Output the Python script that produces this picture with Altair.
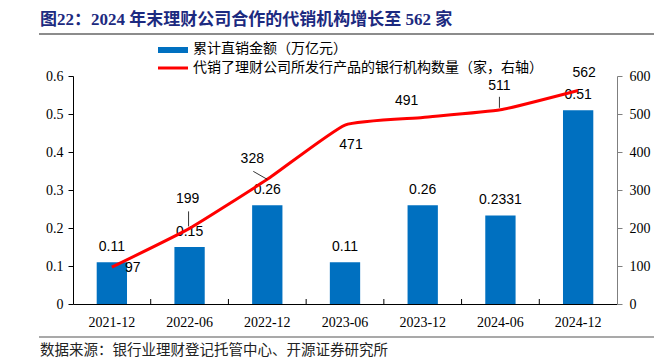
import altair as alt
import pandas as pd

# ---- data ----
categories = ["2021-12", "2022-06", "2022-12", "2023-06", "2023-12", "2024-06", "2024-12"]
direct_sales = [0.11, 0.15, 0.26, 0.11, 0.26, 0.2331, 0.51]
direct_labels = ["0.11", "0.15", "0.26", "0.11", "0.26", "0.2331", "0.51"]
bank_count = [97, 199, 328, 471, 491, 511, 562]

title_text = "图22：2024 年末理财公司合作的代销机构增长至 562 家"
bar_legend = "累计直销金额（万亿元）"
line_legend = "代销了理财公司所发行产品的银行机构数量（家，右轴）"
source_text = "数据来源：银行业理财登记托管中心、开源证券研究所"
left_ticks = [0, 0.1, 0.2, 0.3, 0.4, 0.5, 0.6]
right_ticks = [0, 100, 200, 300, 400, 500, 600]

# ---- layout / style ----
W, H = 544, 228
BAND = W / len(categories)
BLUE = "#0070C0"
RED = "#FF0000"
NAVY = "#1C2A80"
SERIF = "Liberation Serif"
CJK = "'Liberation Serif', 'Noto Sans CJK SC'"
CJK_PLAIN = "Noto Sans CJK SC"
NUM = "Liberation Sans"

df = pd.DataFrame({"cat": categories, "amt": direct_sales,
                   "amt_label": direct_labels, "cnt": bank_count})
base = alt.Chart(df)

x_enc = alt.X("cat:N", sort=categories,
              scale=alt.Scale(paddingInner=0, paddingOuter=0),
              axis=alt.Axis(title=None, labelAngle=0, labelFont=SERIF, labelFontSize=14,
                            labelColor="black", labelPadding=11, ticks=False,
                            domainColor="black", domainWidth=1))

y_left = alt.Y("amt:Q", scale=alt.Scale(domain=[0, 0.6]),
               axis=alt.Axis(title=None, orient="left", values=left_ticks, format=".1~f",
                             labelFont=SERIF, labelFontSize=14, labelColor="black",
                             tickSize=5, tickColor="black", domainColor="black",
                             grid=False, labelPadding=5))

y_right = alt.Y("cnt:Q", scale=alt.Scale(domain=[0, 600]),
                axis=alt.Axis(title=None, orient="right", values=right_ticks,
                              labelFont=SERIF, labelFontSize=14, labelColor="black",
                              tickSize=5, tickColor="#7f7f7f", domainColor="#7f7f7f",
                              grid=False, labelPadding=7))

bars = base.mark_bar(color=BLUE, width={"band": 0.39}).encode(x=x_enc, y=y_left)
bar_text = base.mark_text(font=NUM, fontSize=14, color="black", baseline="middle",
                          dy=-15).encode(x="cat:N", y=y_left, text="amt_label:N")
left_layer = alt.layer(bars, bar_text)

line = base.mark_line(color=RED, strokeWidth=3, interpolate="cardinal",
                      tension=0.55).encode(x="cat:N", y=y_right)

label_offsets = {
    "2021-12": (21, 1), "2022-06": (-2, -29), "2022-12": (-15, -20),
    "2023-06": (6, 20), "2023-12": (-16, -16), "2024-06": (-1, -24),
    "2024-12": (6, -17),
}
line_labels = []
for c, (dx, dy) in label_offsets.items():
    line_labels.append(
        base.transform_filter(alt.datum.cat == c).mark_text(
            font=NUM, fontSize=14, color="black", baseline="middle", dx=dx, dy=dy
        ).encode(x="cat:N", y=y_right, text="cnt:Q"))

leader_a = base.transform_filter(alt.datum.cat == "2022-06").mark_rule(
    color="black", strokeWidth=0.8, xOffset=-1, yOffset=-2, y2Offset=-17
).encode(x="cat:N", y=y_right, y2="cnt:Q")
leader_b = base.transform_filter(alt.datum.cat == "2024-06").mark_rule(
    color="black", strokeWidth=0.8, xOffset=-1, yOffset=-2, y2Offset=-13
).encode(x="cat:N", y=y_right, y2="cnt:Q")
leader_c = base.transform_filter(alt.datum.cat == "2022-12").mark_rule(
    color="black", strokeWidth=0.8, xOffset=0, x2Offset=-14, yOffset=0, y2Offset=-8
).encode(x="cat:N", x2="cat:N", y=y_right, y2="cnt:Q")

right_layer = alt.layer(line, *line_labels, leader_a, leader_b, leader_c)

# inward x-axis ticks between categories
xticks = base.transform_filter(alt.datum.cat != categories[0]).mark_rule(
    color="black", strokeWidth=1, xOffset=-BAND / 2
).encode(x="cat:N", y=alt.value(H), y2=alt.value(H - 5))

one = alt.Chart(pd.DataFrame({"k": [0]}))
title = one.mark_text(text=title_text, font=CJK, fontSize=17, fontWeight="bold",
                      color=NAVY, align="left", baseline="middle").encode(
    x=alt.value(-33), y=alt.value(-56))
hr_top = one.mark_rule(color="#8c8c8c", strokeWidth=2).encode(
    x=alt.value(-34), x2=alt.value(581), y=alt.value(-42))
hr_bot = one.mark_rule(color="#8c8c8c", strokeWidth=1.5).encode(
    x=alt.value(-34), x2=alt.value(581), y=alt.value(261))
source = one.mark_text(text=source_text, font=CJK_PLAIN, fontSize=14.5, color="#222222",
                       align="left", baseline="middle").encode(
    x=alt.value(-33), y=alt.value(275))
leg_rect = one.mark_rect(color=BLUE).encode(
    x=alt.value(85), x2=alt.value(115), y=alt.value(-29), y2=alt.value(-23))
leg_rule = one.mark_rule(color=RED, strokeWidth=3).encode(
    x=alt.value(85), x2=alt.value(115), y=alt.value(-8))
leg_t1 = one.mark_text(text=bar_legend, font=CJK_PLAIN, fontSize=14, color="black",
                       align="left", baseline="middle").encode(
    x=alt.value(120), y=alt.value(-27))
leg_t2 = one.mark_text(text=line_legend, font=CJK_PLAIN, fontSize=14, color="black",
                       align="left", baseline="middle").encode(
    x=alt.value(120), y=alt.value(-8))

chart = alt.layer(
    left_layer, right_layer, xticks,
    title, hr_top, hr_bot, source, leg_rect, leg_rule, leg_t1, leg_t2
).resolve_scale(y="independent").properties(
    width=W, height=H, autosize="none",
    padding={"left": 65, "top": 68, "right": 40, "bottom": 58},
    background="white"
).configure_view(stroke=None)

chart.save("out.html", embed_options={"renderer": "svg", "actions": False})
